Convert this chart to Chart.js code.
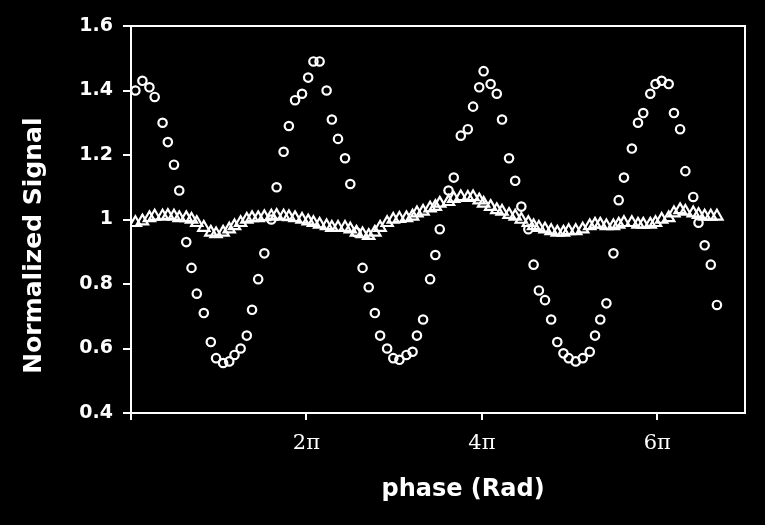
<!DOCTYPE html>
<html lang="en">
<head>
    <meta charset="UTF-8">
    <title>Normalized Signal vs phase</title>
    <style>
        html, body {
            margin: 0;
            padding: 0;
            background-color: #000;
        }
        .chart-box {
            width: 765px;
            height: 525px;
        }
    </style>
    <script src="https://cdn.jsdelivr.net/npm/chart.js@4.4.1/dist/chart.umd.min.js"></script>
</head>
<body>
    <div class="chart-box">
        <canvas id="signalChart" width="765" height="525"></canvas>
    </div>

    <script>
        // phase in units of pi
        const phase = [
            0.05, 0.13, 0.21, 0.27, 0.36, 0.42, 0.49, 0.55, 0.63, 0.69,
            0.75, 0.83, 0.91, 0.97, 1.05, 1.12, 1.18, 1.25, 1.32, 1.38,
            1.45, 1.52, 1.60, 1.66, 1.74, 1.80, 1.87, 1.95, 2.02, 2.08,
            2.15, 2.23, 2.29, 2.36, 2.44, 2.50, 2.57, 2.64, 2.71, 2.78,
            2.84, 2.92, 2.99, 3.06, 3.14, 3.21, 3.26, 3.33, 3.41, 3.47,
            3.52, 3.62, 3.68, 3.76, 3.84, 3.90, 3.97, 4.02, 4.10, 4.17,
            4.23, 4.31, 4.38, 4.45, 4.53, 4.59, 4.65, 4.72, 4.79, 4.86,
            4.93, 4.99, 5.07, 5.15, 5.23, 5.29, 5.35, 5.42, 5.50, 5.56,
            5.62, 5.71, 5.78, 5.84, 5.92, 5.98, 6.05, 6.13, 6.19, 6.26,
            6.32, 6.41, 6.47, 6.54, 6.61, 6.68
        ];

        // open circles
        const circleSignal = [
            1.40, 1.43, 1.41, 1.38, 1.30, 1.24, 1.17, 1.09, 0.93, 0.85,
            0.77, 0.71, 0.62, 0.57, 0.555, 0.56, 0.58, 0.60, 0.64, 0.72,
            0.815, 0.895, 1.00, 1.10, 1.21, 1.29, 1.37, 1.39, 1.44, 1.49,
            1.49, 1.40, 1.31, 1.25, 1.19, 1.11, 0.96, 0.85, 0.79, 0.71,
            0.64, 0.60, 0.57, 0.565, 0.58, 0.59, 0.64, 0.69, 0.815, 0.89,
            0.97, 1.09, 1.13, 1.26, 1.28, 1.35, 1.41, 1.46, 1.42, 1.39,
            1.31, 1.19, 1.12, 1.04, 0.97, 0.86, 0.78, 0.75, 0.69, 0.62,
            0.585, 0.57, 0.56, 0.57, 0.59, 0.64, 0.69, 0.74, 0.895, 1.06,
            1.13, 1.22, 1.30, 1.33, 1.39, 1.42, 1.43, 1.42, 1.33, 1.28,
            1.15, 1.07, 0.99, 0.92, 0.86, 0.735
        ];

        // open triangles
        const triangleSignal = [
            0.99, 0.995, 1.005, 1.01, 1.01, 1.012, 1.01, 1.005, 1.005, 1.0,
            0.99, 0.975, 0.96, 0.955, 0.96, 0.97, 0.98, 0.99, 1.0, 1.005,
            1.005, 1.008, 1.01, 1.012, 1.01, 1.008, 1.005, 1.0, 0.995, 0.99,
            0.985, 0.98, 0.975, 0.975, 0.975, 0.97, 0.96, 0.955, 0.95, 0.96,
            0.975, 0.99, 1.0, 1.003, 1.005, 1.01, 1.02, 1.025, 1.035, 1.04,
            1.05, 1.055, 1.065, 1.07, 1.068, 1.07, 1.06, 1.05, 1.04, 1.03,
            1.025, 1.015, 1.01, 1.0, 0.99, 0.98, 0.975, 0.97, 0.965, 0.96,
            0.96, 0.965, 0.965, 0.97, 0.98, 0.985, 0.985, 0.98, 0.98, 0.985,
            0.99, 0.99, 0.985, 0.985, 0.985, 0.99, 1.0, 1.005, 1.02, 1.03,
            1.025, 1.02, 1.015, 1.01, 1.01, 1.01
        ];

        const xTicks = [0, 2, 4, 6];
        const yTicks = [0.4, 0.6, 0.8, 1, 1.2, 1.4, 1.6];

        const toPoints = (ys) => phase.map((x, i) => ({ x: x, y: ys[i] }));

        // box round the plot area (Excel style frame)
        const plotFrame = {
            id: 'plotFrame',
            beforeDatasetsDraw(chart) {
                const { ctx, chartArea } = chart;
                ctx.save();
                ctx.strokeStyle = '#fff';
                ctx.lineWidth = 2;
                ctx.strokeRect(chartArea.left, chartArea.top,
                    chartArea.right - chartArea.left, chartArea.bottom - chartArea.top);
                ctx.restore();
            }
        };

        const ctx = document.getElementById('signalChart').getContext('2d');
        new Chart(ctx, {
            type: 'scatter',
            data: {
                datasets: [
                    {
                        label: 'circles',
                        data: toPoints(circleSignal),
                        pointStyle: 'circle',
                        pointRadius: 4.2,
                        borderWidth: 2.2,
                        borderColor: '#fff',
                        backgroundColor: 'rgba(0,0,0,0)'
                    },
                    {
                        label: 'triangles',
                        data: toPoints(triangleSignal),
                        pointStyle: 'triangle',
                        pointRadius: 6.5,
                        borderWidth: 2.2,
                        borderColor: '#fff',
                        backgroundColor: 'rgba(0,0,0,0)'
                    }
                ]
            },
            options: {
                responsive: false,
                animation: false,
                layout: {
                    padding: { top: 26, right: 20, left: 0, bottom: 0 }
                },
                plugins: {
                    legend: { display: false },
                    tooltip: { enabled: false }
                },
                scales: {
                    x: {
                        type: 'linear',
                        min: 0,
                        max: 7,
                        afterBuildTicks: (scale) => {
                            scale.ticks = xTicks.map(v => ({ value: v }));
                        },
                        afterFit: (scale) => { scale.height = 112; },
                        ticks: {
                            color: '#fff',
                            padding: 11,
                            maxRotation: 0,
                            font: { family: 'DejaVu Serif', size: 21 },
                            callback: (v) => v === 0 ? '' : v + 'π'
                        },
                        grid: {
                            drawOnChartArea: false,
                            drawTicks: true,
                            tickLength: 7,
                            color: '#fff',
                            lineWidth: 2
                        },
                        border: { color: '#fff', width: 2 },
                        title: {
                            display: true,
                            text: '      phase (Rad)',
                            color: '#fff',
                            padding: { top: 0, bottom: 21 },
                            font: { family: 'DejaVu Sans', weight: 'bold', size: 24 }
                        }
                    },
                    y: {
                        min: 0.4,
                        max: 1.6,
                        afterBuildTicks: (scale) => {
                            scale.ticks = yTicks.map(v => ({ value: v }));
                        },
                        afterFit: (scale) => { scale.width = 131; },
                        ticks: {
                            color: '#fff',
                            padding: 10,
                            font: { family: 'DejaVu Sans', weight: 'bold', size: 19 },
                            callback: (v) => String(Number(v.toFixed(1)))
                        },
                        grid: {
                            drawOnChartArea: false,
                            drawTicks: true,
                            tickLength: 8,
                            color: '#fff',
                            lineWidth: 2
                        },
                        border: { color: '#fff', width: 2 },
                        title: {
                            display: true,
                            text: 'Normalized Signal      ',
                            color: '#fff',
                            padding: { top: 19, bottom: 0 },
                            font: { family: 'DejaVu Sans', weight: 'bold', size: 25 }
                        }
                    }
                }
            },
            plugins: [plotFrame]
        });
    </script>
</body>
</html>
